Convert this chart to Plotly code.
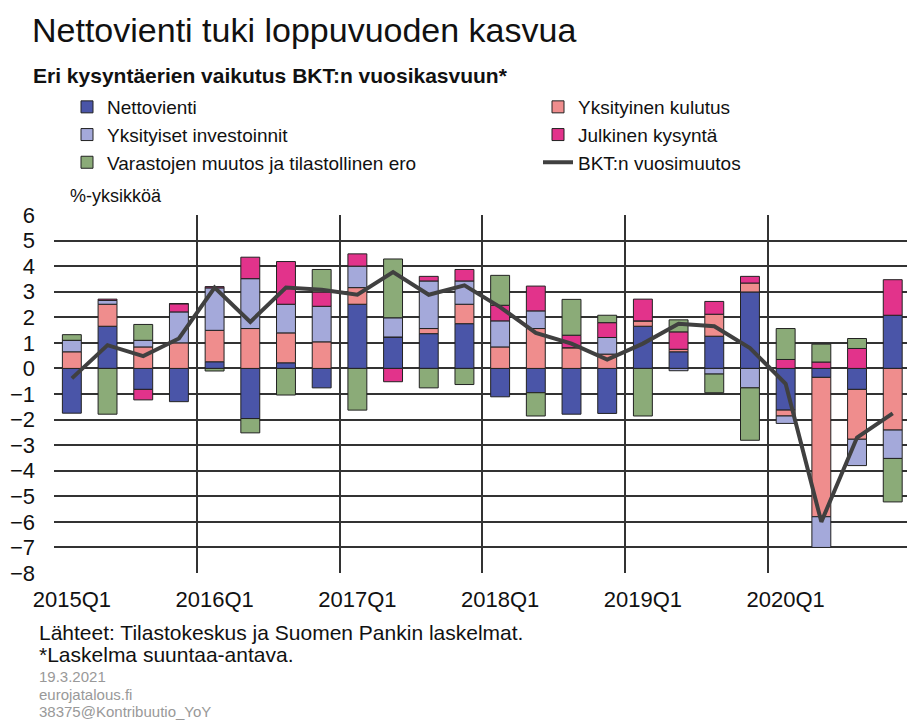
import plotly.graph_objects as go

quarters = [f"{y}Q{q}" for y in range(2015, 2021) for q in range(1, 5)]

nettovienti = [-1.75, 1.65, -0.82, -1.30, 0.26, -1.96, 0.22, -0.76, 2.51, 1.23, 1.36, 1.75,
               -1.11, -0.95, -1.79, -1.76, 1.65, 0.65, 1.26, 2.99, -1.63, -0.35, -0.82, 2.08]
kulutus = [0.65, 0.86, 0.84, 1.00, 1.23, 1.56, 1.17, 1.04, 0.65, 0.00, 0.20, 0.76,
           0.84, 1.56, 0.81, 0.56, 0.21, 0.10, 0.86, 0.35, -0.23, -5.45, -1.95, -2.41]
investoinnit = [0.45, 0.15, 0.26, 1.21, 1.66, 1.95, 1.12, 1.39, 0.84, 0.75, 1.86, 0.91,
                1.02, 0.69, 0.00, 0.65, 0.00, -0.09, -0.22, -0.76, -0.29, -1.20, -1.03, -1.11]
julkinen = [0.00, 0.05, -0.41, 0.32, 0.05, 0.84, 1.67, 0.56, 0.48, -0.52, 0.18, 0.45,
            0.61, 0.97, 0.49, 0.58, 0.85, 0.68, 0.50, 0.26, 0.35, 0.25, 0.78, 1.39]
varastot = [0.22, -1.79, 0.62, 0.00, -0.10, -0.56, -1.04, 0.88, -1.63, 2.30, -0.76, -0.63,
            1.17, -0.91, 1.40, 0.29, -1.86, 0.47, -0.73, -2.05, 1.21, 0.70, 0.39, -1.70]
bkt = [-0.39, 0.91, 0.48, 1.17, 3.16, 1.82, 3.16, 3.08, 2.88, 3.77, 2.88, 3.25,
       2.40, 1.39, 0.97, 0.35, 0.97, 1.75, 1.65, 0.80, -0.60, -6.00, -2.70, -1.76]

tick_labels = ["2015Q1", "2016Q1", "2017Q1", "2018Q1", "2019Q1", "2020Q1"]

W, H = 907, 720
L, R, T, B = 54, 907, 215, 573

def px(x):
    return (x - L) / (R - L)

def py(y):
    return (B - y) / (B - T)

xs = list(range(len(quarters)))
font = "Liberation Sans, Arial, sans-serif"

fig = go.Figure()
series = [
    ("Nettovienti", nettovienti, "#4a55a8", "legend"),
    ("Yksityinen kulutus", kulutus, "#ef8d8d", "legend2"),
    ("Yksityiset investoinnit", investoinnit, "#a4a9da", "legend"),
    ("Julkinen kysyntä", julkinen, "#e2338b", "legend2"),
    ("Varastojen muutos ja tilastollinen ero", varastot, "#8bab78", "legend"),
]
for name, vals, col, lg in series:
    fig.add_trace(go.Bar(x=xs, y=vals, name=name, marker=dict(color=col, line=dict(color="#222", width=1)),
                         width=0.53, legend=lg))
fig.add_trace(go.Scatter(x=xs, y=bkt, name="BKT:n vuosimuutos", mode="lines",
                         line=dict(color="#404040", width=4), legend="legend2"))

fig.update_layout(
    width=W, height=H, barmode="relative",
    margin=dict(l=L, r=W - R, t=T, b=H - B),
    paper_bgcolor="white", plot_bgcolor="white",
    font=dict(family=font, color="#111"),
    xaxis=dict(range=[-0.5, 23.4], tickmode="array", tickvals=[0, 4, 8, 12, 16, 20], ticktext=tick_labels,
               showgrid=False, zeroline=False, showline=False, ticks="",
               tickfont=dict(size=22, color="#111"), ticklabelstandoff=11,
               minor=dict(tickmode="array", tickvals=[-0.5, 3.5, 7.5, 11.5, 15.5, 19.5],
                          showgrid=True, gridcolor="#333", gridwidth=1.5, ticks="")),
    yaxis=dict(range=[-8, 6], dtick=1, showgrid=True, gridcolor="#333", gridwidth=1.5,
               zeroline=False, showline=False, ticks="", tickfont=dict(size=22, color="#111"),
               ticklabelstandoff=18),
    legend=dict(x=px(67), y=py(88), xanchor="left", yanchor="top", font=dict(size=19, color="#111"),
                bgcolor="rgba(0,0,0,0)", traceorder="normal", tracegroupgap=0),
    legend2=dict(x=px(538), y=py(88), xanchor="left", yanchor="top", font=dict(size=19, color="#111"),
                 bgcolor="rgba(0,0,0,0)", traceorder="normal", tracegroupgap=0),
    showlegend=True,
)

ann = [
    dict(text="Nettovienti tuki loppuvuoden kasvua", x=px(30), y=py(30), size=34, color="#111"),
    dict(text="<b>Eri kysyntäerien vaikutus BKT:n vuosikasvuun*</b>", x=px(31), y=py(75), size=21, color="#111"),
    dict(text="%-yksikköä", x=px(68), y=py(196), size=18, color="#111"),
    dict(text="Lähteet: Tilastokeskus ja Suomen Pankin laskelmat.", x=px(37), y=py(632), size=21, color="#111"),
    dict(text="*Laskelma suuntaa-antava.", x=px(37), y=py(654), size=21, color="#111"),
    dict(text="19.3.2021", x=px(37), y=py(676), size=15, color="#999"),
    dict(text="eurojatalous.fi", x=px(37), y=py(694), size=15, color="#999"),
    dict(text="38375@Kontribuutio_YoY", x=px(37), y=py(711), size=15, color="#999"),
]
for a in ann:
    fig.add_annotation(text=a["text"], x=a["x"], y=a["y"], xref="paper", yref="paper",
                       xanchor="left", yanchor="middle", showarrow=False,
                       font=dict(size=a["size"], color=a["color"], family=font))

fig.write_html("out.html", config={"displayModeBar": False},
               post_script="document.body.style.margin='0';document.body.style.overflow='hidden';")
